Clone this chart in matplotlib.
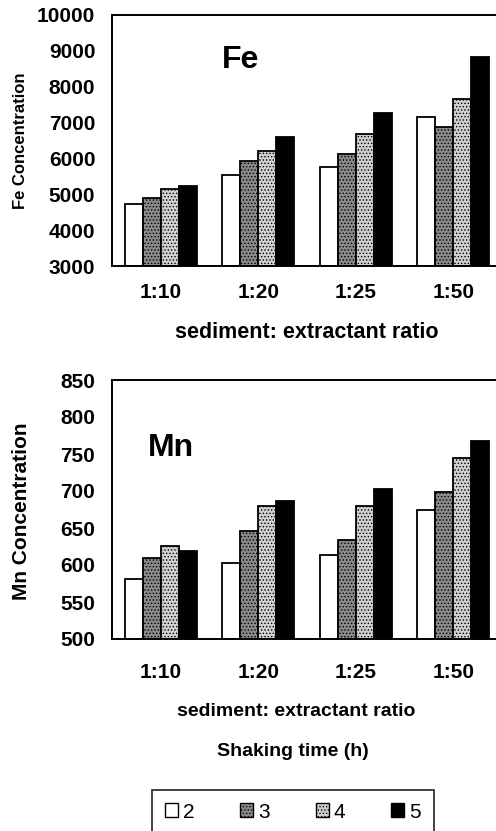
import numpy as np
import matplotlib
matplotlib.use("Agg")
import matplotlib.pyplot as plt
from matplotlib.patches import Patch

plt.rcParams["font.family"] = ["Liberation Sans", "DejaVu Sans"]
plt.rcParams["font.weight"] = "bold"
plt.rcParams["hatch.linewidth"] = 0.6

# data
ratios = ["1:10", "1:20", "1:25", "1:50"]
shaking_times = ["2", "3", "4", "5"]
fe_2 = [4720, 5540, 5750, 7160]
fe_3 = [4910, 5920, 6120, 6870]
fe_4 = [5150, 6220, 6680, 7650]
fe_5 = [5230, 6590, 7280, 8840]
mn_2 = [581, 603, 613, 674]
mn_3 = [610, 646, 634, 698]
mn_4 = [626, 680, 680, 745]
mn_5 = [619, 687, 703, 767]

styles = [
    dict(facecolor="white", hatch=None),
    dict(facecolor="#8a8a8a", hatch="....."),
    dict(facecolor="#d0d0d0", hatch="....."),
    dict(facecolor="black", hatch=None),
]

W, H = 496, 831
fig = plt.figure(figsize=(W / 100, H / 100), dpi=100)


def px_axes(left, top, right, bottom):
    return fig.add_axes([left / W, 1 - bottom / H, (right - left) / W, (bottom - top) / H])


def draw(ax, series, ylim, yticks, xpad):
    x = np.arange(len(ratios))
    bw = 0.185
    for i, vals in enumerate(series):
        ax.bar(x + (i - 1.5) * bw, np.array(vals) - ylim[0], bw, bottom=ylim[0],
               edgecolor="black", linewidth=1.3, **styles[i])
    ax.set_xlim(-0.5, 3.5)
    ax.set_ylim(*ylim)
    ax.set_yticks(yticks)
    ax.set_xticks(x)
    ax.set_xticklabels(ratios, fontsize=15, fontweight="bold")
    ax.tick_params(axis="y", labelsize=15, length=0, pad=12)
    ax.tick_params(axis="x", length=0, pad=xpad)
    for lab in ax.get_yticklabels():
        lab.set_fontweight("bold")
    for s in ax.spines.values():
        s.set_linewidth(1.4)


ax1 = px_axes(112, 15, 502, 266)
draw(ax1, [fe_2, fe_3, fe_4, fe_5], (3000, 10000), range(3000, 10001, 1000), 12)
ax1.set_ylabel("Fe Concentration", fontsize=12, fontweight="bold", va="center")
ax1.yaxis.set_label_coords((20 - 112) / 390, 0.5)
ax1.set_xlabel("sediment: extractant ratio", fontsize=15.5, fontweight="bold", va="center")
ax1.xaxis.set_label_coords((307 - 112) / 390, (266 - 332) / 251)
ax1.text(0.33, 0.82, "Fe", transform=ax1.transAxes, fontsize=23, fontweight="bold",
         ha="center", va="center")

ax2 = px_axes(112, 380, 502, 639)
draw(ax2, [mn_2, mn_3, mn_4, mn_5], (500, 850), range(500, 851, 50), 17)
ax2.set_ylabel("Mn Concentration", fontsize=15, fontweight="bold", va="center")
ax2.yaxis.set_label_coords((21 - 112) / 390, (639 - 511) / 259)
ax2.set_xlabel("sediment: extractant ratio", fontsize=14, fontweight="bold", va="center")
ax2.xaxis.set_label_coords((296 - 112) / 390, (639 - 712) / 259)
ax2.text(0.15, 0.737, "Mn", transform=ax2.transAxes, fontsize=23, fontweight="bold",
         ha="center", va="center")

fig.text(293 / W, 1 - 751 / H, "Shaking time (h)", fontsize=14, fontweight="bold",
         ha="center", va="center")

handles = [Patch(edgecolor="black", linewidth=1.0, **st) for st in styles]
leg = fig.legend(handles, shaking_times, ncol=4, loc="upper center",
                 bbox_to_anchor=(293 / W, 1 - 790 / H),
                 frameon=True, fancybox=False, edgecolor="black", fontsize=15,
                 handlelength=0.62, handleheight=0.62, handletextpad=0.25,
                 borderpad=0.6, columnspacing=2.2, borderaxespad=0)
leg.get_frame().set_linewidth(1.3)
for t in leg.get_texts():
    t.set_fontweight("normal")

fig.savefig("out.png", dpi=100)
